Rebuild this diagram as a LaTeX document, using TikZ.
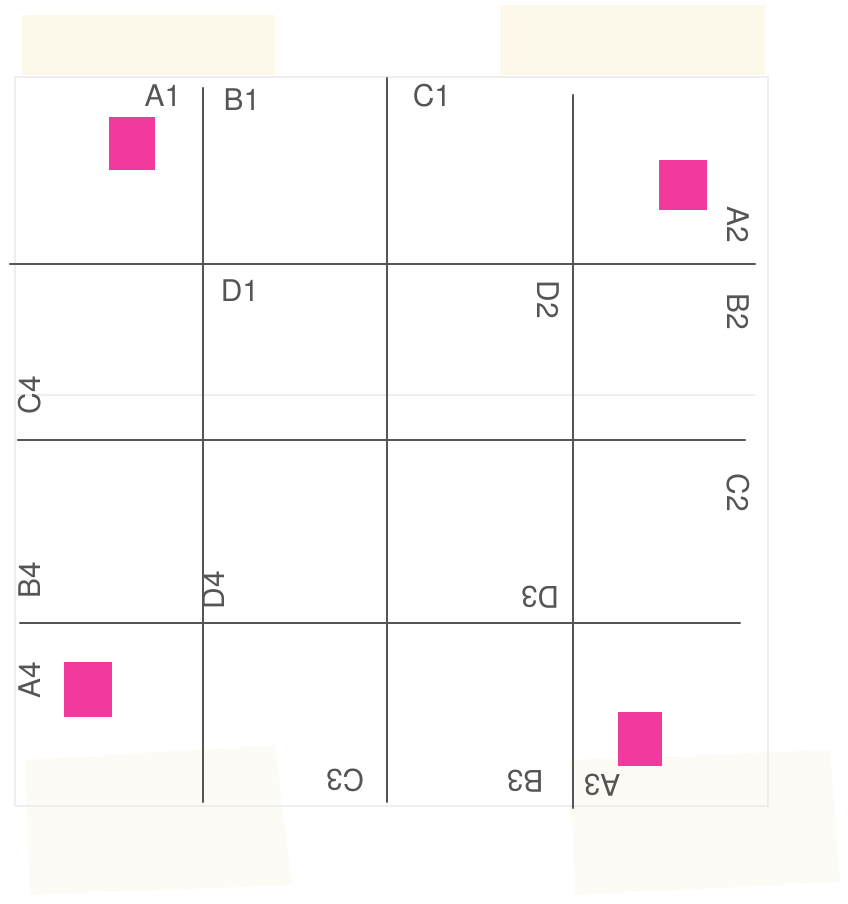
\documentclass[tikz,border=0pt]{standalone}
\usepackage{fontspec}
\setmainfont{TeX Gyre Heros}
\usetikzlibrary{positioning}
\definecolor{pencil}{HTML}{555555}
\definecolor{marker}{HTML}{F2399E}
\definecolor{tape}{HTML}{FCF9EA}
\definecolor{tapepale}{HTML}{FCFBF5}
\definecolor{ghost}{HTML}{EEEEEE}
\tikzset{
  gridline/.style={
    draw=pencil,
    line width=1.4pt,
    line cap=round
  },
  faintline/.style={
    draw=ghost,
    line width=0.6pt
  },
  tapestrip/.style={
    fill=tape,
    draw=none
  },
  patch/.style={
    fill=marker,
    draw=none,
    inner sep=0pt
  },
  seat/.style={
    text=pencil,
    inner sep=1pt,
    font=\fontsize{17}{20}\selectfont
  }
}

\begin{document}
\begin{tikzpicture}[x=0.02cm,y=-0.02cm]
  \useasboundingbox[fill=white] (0,0) rectangle (848,904);

  % Tape and paper edge
  \fill[tapestrip] (22,15) rectangle (275,75);
  \fill[tapestrip] (500,5) rectangle (765,75);
  \fill[tapepale] (25,760) -- (275,745) -- (292,885) -- (30,895) -- cycle;
  \fill[tapepale] (570,760) -- (830,750) -- (840,882) -- (575,895) -- cycle;
  \draw[faintline] (15,77) rectangle (768,806);
  \draw[faintline] (15,395) -- (755,395);

  % Grid
  \draw[gridline] (203,88) -- (203,802);
  \draw[gridline] (387,78) -- (387,802);
  \draw[gridline] (573,95) -- (573,808);
  \draw[gridline] (10,264) -- (755,264);
  \draw[gridline] (18,440) -- (745,440);
  \draw[gridline] (20,623) -- (740,623);

  % Marked seats
  \node[patch, minimum width=0.92cm, minimum height=1.06cm] (pinkA1) at (132,143) {};
  \node[patch, minimum width=0.96cm, minimum height=1.0cm] (pinkA2) at (683,185) {};
  \node[patch, minimum width=0.98cm, minimum height=1.1cm] (pinkA4) at (88,689) {};
  \node[patch, minimum width=0.9cm, minimum height=1.08cm] (pinkA3) at (640,739) {};

  % Top row labels
  \node[seat] (A1) at (163,96) {A1};
  \node[seat] (B1) at (242,100) {B1};
  \node[seat] (C1) at (432,96) {C1};
  \node[seat] (D1) at (240,291) {D1};

  % Right column labels
  \node[seat, rotate=-90] (A2) at (738,225) {A2};
  \node[seat, rotate=-90] (B2) at (738,312) {B2};
  \node[seat, rotate=-90] (C2) at (738,493) {C2};
  \node[seat, rotate=-90] (D2) at (548,300) {D2};

  % Bottom row labels
  \node[seat, rotate=180] (C3) at (345,780) {C3};
  \node[seat, rotate=180] (B3) at (525,781) {B3};
  \node[seat, rotate=180] (A3) at (602,785) {A3};
  \node[seat, rotate=180] (D3) at (540,597) {D3};

  % Left column labels
  \node[seat, rotate=90] (C4) at (30,395) {C4};
  \node[seat, rotate=90] (B4) at (30,580) {B4};
  \node[seat, rotate=90] (A4) at (30,680) {A4};
  \node[seat, rotate=90] (D4) at (214,590) {D4};
\end{tikzpicture}
\end{document}
